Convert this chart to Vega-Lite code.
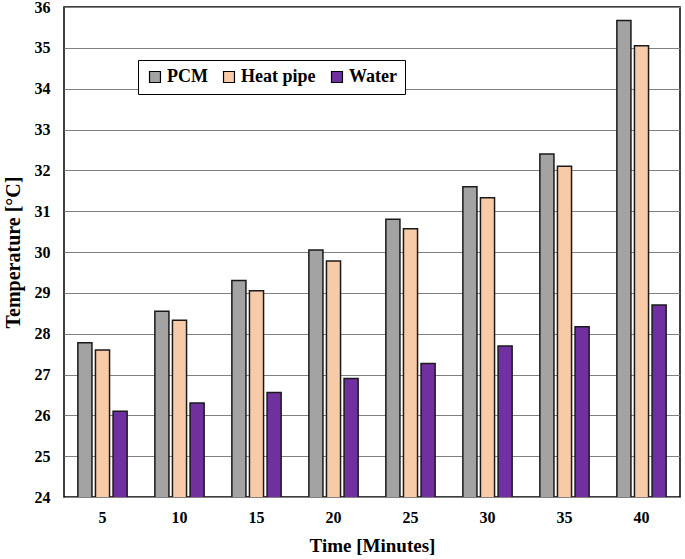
{
  "$schema": "https://vega.github.io/schema/vega-lite/v6.json",
  "autosize": "none",
  "width": 616,
  "height": 490,
  "padding": {"left": 64, "top": 7, "right": 5, "bottom": 62},
  "background": "white",
  "config": {
    "view": {"stroke": "black", "strokeWidth": 1.5},
    "font": "Liberation Serif"
  },
  "data": {
    "values": [
      {"time": 5, "series": "PCM", "temp": 27.78},
      {"time": 5, "series": "Heat pipe", "temp": 27.6},
      {"time": 5, "series": "Water", "temp": 26.1},
      {"time": 10, "series": "PCM", "temp": 28.55},
      {"time": 10, "series": "Heat pipe", "temp": 28.33},
      {"time": 10, "series": "Water", "temp": 26.3},
      {"time": 15, "series": "PCM", "temp": 29.3},
      {"time": 15, "series": "Heat pipe", "temp": 29.05},
      {"time": 15, "series": "Water", "temp": 26.56},
      {"time": 20, "series": "PCM", "temp": 30.05},
      {"time": 20, "series": "Heat pipe", "temp": 29.78},
      {"time": 20, "series": "Water", "temp": 26.9},
      {"time": 25, "series": "PCM", "temp": 30.8},
      {"time": 25, "series": "Heat pipe", "temp": 30.57},
      {"time": 25, "series": "Water", "temp": 27.27},
      {"time": 30, "series": "PCM", "temp": 31.6},
      {"time": 30, "series": "Heat pipe", "temp": 31.33},
      {"time": 30, "series": "Water", "temp": 27.7},
      {"time": 35, "series": "PCM", "temp": 32.4},
      {"time": 35, "series": "Heat pipe", "temp": 32.1},
      {"time": 35, "series": "Water", "temp": 28.17},
      {"time": 40, "series": "PCM", "temp": 35.67},
      {"time": 40, "series": "Heat pipe", "temp": 35.05},
      {"time": 40, "series": "Water", "temp": 28.7}
    ]
  },
  "mark": {"type": "bar", "stroke": "#1a1a1a", "strokeWidth": 1.5, "clip": true},
  "encoding": {
    "x": {
      "field": "time", "type": "ordinal",
      "scale": {"paddingInner": 0.36, "paddingOuter": 0.18},
      "axis": {
        "title": "Time [Minutes]", "titleFont": "Liberation Serif", "titleFontSize": 19, "titleFontWeight": "bold", "titleColor": "black", "titlePadding": 11,
        "labelAngle": 0, "labelFont": "Liberation Serif", "labelFontSize": 16, "labelFontWeight": "bold", "labelColor": "black", "labelPadding": 12,
        "ticks": false, "domain": false
      }
    },
    "xOffset": {"field": "series", "sort": ["PCM", "Heat pipe", "Water"], "scale": {"paddingInner": 0.2}},
    "y": {
      "field": "temp", "type": "quantitative",
      "scale": {"domain": [24, 36], "nice": false, "zero": false},
      "axis": {
        "title": "Temperature [°C]", "titleFont": "Liberation Serif", "titleFontSize": 20, "titleFontWeight": "bold", "titleColor": "black", "titlePadding": 11,
        "values": [24, 25, 26, 27, 28, 29, 30, 31, 32, 33, 34, 35, 36], "format": "d",
        "labelFont": "Liberation Serif", "labelFontSize": 16, "labelFontWeight": "bold", "labelColor": "black", "labelPadding": 14,
        "grid": true, "gridColor": "#808080", "gridWidth": 1.2,
        "ticks": false,
        "domain": false
      }
    },
    "fill": {
      "field": "series", "type": "nominal",
      "scale": {"domain": ["PCM", "Heat pipe", "Water"], "range": ["#a3a3a3", "#f8cba8", "#7030a0"]},
      "legend": {
        "title": null, "orient": "none", "legendX": 74, "legendY": 53, "direction": "horizontal",
        "symbolType": "square", "symbolSize": 120, "symbolStrokeColor": "black", "symbolStrokeWidth": 1.2,
        "labelFont": "Liberation Serif", "labelFontSize": 18, "labelFontWeight": "bold", "labelColor": "black",
        "columnPadding": 12, "labelOffset": 3,
        "strokeColor": "black", "fillColor": "white", "padding": 8
      }
    }
  }
}
